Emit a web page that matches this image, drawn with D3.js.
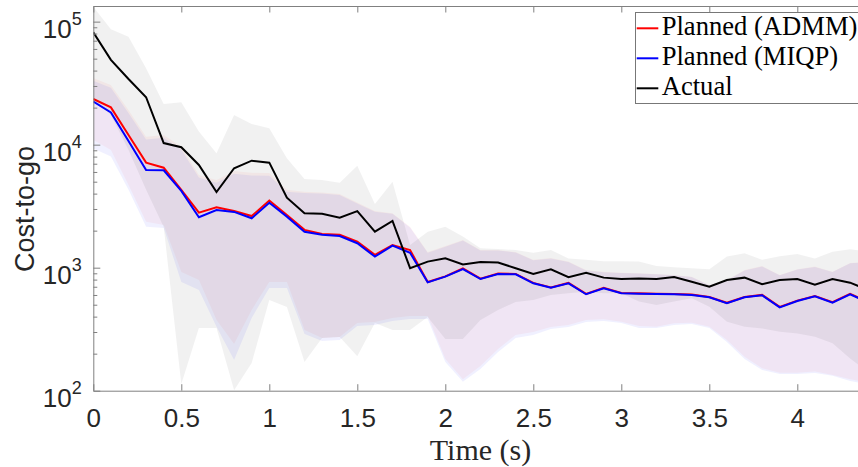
<!DOCTYPE html>
<html><head><meta charset="utf-8">
<script src="https://cdn.jsdelivr.net/npm/d3@7"></script>
<style>body{margin:0;background:#fff;} svg{display:block;}</style>
</head><body>
<svg id="chart" width="858" height="467"></svg>
<script>
// ---- data ----
const time = [0,0.1,0.2,0.3,0.4,0.5,0.6,0.7,0.8,0.9,1.0,1.1,1.2,1.3,1.4,1.5,1.6,1.7,1.8,1.9,2.0,2.1,2.2,2.3,2.4,2.5,2.6,2.7,2.8,2.9,3.0,3.1,3.2,3.3,3.4,3.5,3.6,3.7,3.8,3.9,4.0,4.1,4.2,4.3,4.4];
const plannedADMM = [23500,20100,12000,7140,6500,4290,2800,3100,2890,2630,3510,2680,2030,1880,1850,1630,1270,1530,1390,765,850,985,815,895,890,752,692,752,612,686,623,619,615,612,604,578,518,578,601,480,540,589,524,612,528];
const plannedMIQP = [22400,18300,10700,6220,6190,4210,2570,2940,2840,2520,3370,2600,1960,1850,1810,1580,1230,1510,1320,760,845,975,809,889,883,746,687,746,608,681,619,615,611,608,600,574,514,574,597,476,536,585,520,608,525];
const actual = [82000,48900,34200,24300,10300,9530,6840,4120,6430,7410,7140,3710,2770,2740,2550,2880,1960,2400,990,1120,1190,1060,1110,1100,990,890,970,836,910,830,809,815,809,840,769,701,794,830,733,794,809,728,809,755,660];
// shaded ranges
const admmHigh = [34800,30500,19100,11600,12000,9640,5680,5160,6110,5920,5890,4290,4150,4080,3970,3390,2890,2770,2150,1340,1500,1680,1390,1390,1340,1160,1200,1120,957,927,910,900,889,873,845,723,794,957,1030,873,970,1020,927,1090,1120];
const admmLow = [10900,9060,4700,2360,2220,923,794,376,240,453,765,765,312,268,273,355,361,390,405,405,181,124,159,218,284,300,330,342,376,380,364,336,331,353,357,331,258,189,152,140,140,143,134,124,116];
const miqpHigh = [33000,29000,18100,11000,11400,9150,5400,4900,5800,5620,5600,4150,4050,4000,3900,3330,2850,2740,2120,1320,1480,1660,1380,1380,1330,1150,1190,1110,950,920,905,895,884,868,840,720,790,950,1020,868,965,1015,922,1085,1115];
const miqpLow = [9300,8000,4290,2150,2100,765,659,331,178,390,684,684,289,254,258,336,342,369,383,383,171,118,150,206,268,284,318,330,361,369,355,324,324,342,348,324,249,181,147,137,137,139,132,120,113];
const actualHigh = [132000,86700,75500,41800,21400,22100,12800,8510,17400,14700,13600,7740,5260,5160,4910,6750,3300,5000,1530,1960,2150,1790,1440,1420,1390,1320,1390,1190,1160,1130,1130,1120,1030,1010,990,970,1230,1310,1160,1240,1290,1190,1350,1410,1350];
const actualLow = [23100,17400,9060,4290,2140,113,324,324,101,168,546,479,171,268,273,191,355,312,312,397,263,263,376,453,526,546,600,619,638,619,619,530,498,530,564,482,364,331,321,302,292,275,243,183,142];
const xTicks = [0,0.5,1,1.5,2,2.5,3,3.5,4];
const xTickLabels = ["0","0.5","1","1.5","2","2.5","3","3.5","4"];
const yTicks = [100,1000,10000,100000];
const yTickExps = ["2","3","4","5"];
const legendLabels = ["Planned (ADMM)","Planned (MIQP)","Actual"];
const seriesColors = ["#ff0000","#0000ff","#000000"];

// ---- layout ----
const L = 93.3, R = 867.7, T = 6, B = 390.7;
const svg = d3.select("#chart");
svg.append("rect").attr("width",858).attr("height",467).attr("fill","#fff");
const x = d3.scaleLinear().domain([0,4.4]).range([L,R]);
const y = d3.scaleLog().domain([100,134000]).range([B,T]);

svg.append("clipPath").attr("id","clip").append("rect")
  .attr("x",L).attr("y",T).attr("width",R-L).attr("height",B-T);
const plot = svg.append("g").attr("clip-path","url(#clip)");

const rows = time.map((t,i)=>({t,
  a:plannedADMM[i], m:plannedMIQP[i], c:actual[i],
  ah:admmHigh[i], al:admmLow[i], mh:miqpHigh[i], ml:miqpLow[i], ch:actualHigh[i], cl:actualLow[i]}));

function band(lo,hi){ return d3.area().x(d=>x(d.t)).y0(d=>y(d[lo])).y1(d=>y(d[hi])); }
plot.append("path").datum(rows).attr("d",band("al","ah")).attr("fill","#ff0000").attr("fill-opacity",0.045);
plot.append("path").datum(rows).attr("d",band("ml","mh")).attr("fill","#0000ff").attr("fill-opacity",0.06);
plot.append("path").datum(rows).attr("d",band("cl","ch")).attr("fill","#000000").attr("fill-opacity",0.055);

function ln(k){ return d3.line().x(d=>x(d.t)).y(d=>y(d[k])); }
["a","m","c"].forEach((k,i)=>{
  plot.append("path").datum(rows).attr("d",ln(k)).attr("fill","none")
    .attr("stroke",seriesColors[i]).attr("stroke-width",2).attr("stroke-linejoin","miter");
});

// ---- axes ----
const axisColor = "#808080";
const fmt = (d)=>xTickLabels[xTicks.indexOf(d)];
const gx = svg.append("g").attr("transform",`translate(0,${B})`)
  .call(d3.axisBottom(x).tickValues(xTicks).tickFormat(fmt).tickSize(-6.5).tickSizeOuter(0));
const gxt = svg.append("g").attr("transform",`translate(0,${T})`)
  .call(d3.axisTop(x).tickValues(xTicks).tickFormat("").tickSize(-6.5).tickSizeOuter(0));
const minor = [];
[100,1000,10000].forEach(b=>{ for(let k=2;k<=9;k++) minor.push(b*k); });
const gy = svg.append("g").attr("transform",`translate(${L},0)`)
  .call(d3.axisLeft(y).tickValues(yTicks).tickFormat("").tickSize(-7).tickSizeOuter(0));
const gym = svg.append("g").attr("transform",`translate(${L},0)`)
  .call(d3.axisLeft(y).tickValues(minor).tickFormat("").tickSize(-4).tickSizeOuter(0));
gym.select(".domain").remove();
const gyr = svg.append("g").attr("transform",`translate(${R},0)`)
  .call(d3.axisRight(y).tickValues(yTicks).tickFormat("").tickSize(-7).tickSizeOuter(0));

[gx,gxt,gy,gym,gyr].forEach(g=>{
  g.selectAll(".domain").attr("stroke",axisColor).attr("stroke-width",1);
  g.selectAll(".tick line").attr("stroke",axisColor).attr("stroke-width",1);
});
gx.selectAll(".tick text").attr("y",36).attr("dy",0)
  .attr("font-family","'Liberation Sans', Arial, sans-serif").attr("font-size",26).attr("fill","#262626");

// y tick labels 10^k
yTicks.forEach((v,i)=>{
  const yy = y(v);
  svg.append("text").attr("x",71.7).attr("y",yy+16).attr("text-anchor","end")
    .attr("font-family","'Liberation Sans', Arial, sans-serif").attr("font-size",26).attr("fill","#262626").text("10");
  svg.append("text").attr("x",71.7).attr("y",yy+3.5).attr("text-anchor","start")
    .attr("font-family","'Liberation Sans', Arial, sans-serif").attr("font-size",18).attr("fill","#262626").text(yTickExps[i]);
});

// axis labels
svg.append("text").attr("transform","translate(34,209) rotate(-90)").attr("text-anchor","middle")
  .attr("font-family","'Liberation Sans', Arial, sans-serif").attr("font-size",27).attr("fill","#262626").text("Cost-to-go");
svg.append("text").attr("x",(L+R)/2).attr("y",460).attr("text-anchor","middle")
  .attr("font-family","'Liberation Serif', 'Times New Roman', serif").attr("font-size",30).attr("fill","#262626").text("Time (s)");

// legend
const lg = svg.append("g");
lg.append("rect").attr("x",635.5).attr("y",12.5).attr("width",230).attr("height",91)
  .attr("fill","#fff").attr("stroke","#777").attr("stroke-width",1);
legendLabels.forEach((s,i)=>{
  const yy = 28.3 + i*30;
  lg.append("line").attr("x1",636.7).attr("x2",658.3).attr("y1",yy).attr("y2",yy)
    .attr("stroke",seriesColors[i]).attr("stroke-width",2);
  lg.append("text").attr("x",661.7).attr("y",yy+6.8)
    .attr("font-family","'Liberation Serif', 'Times New Roman', serif").attr("font-size",26.6).attr("fill","#000").text(s);
});
</script>
</body></html>
